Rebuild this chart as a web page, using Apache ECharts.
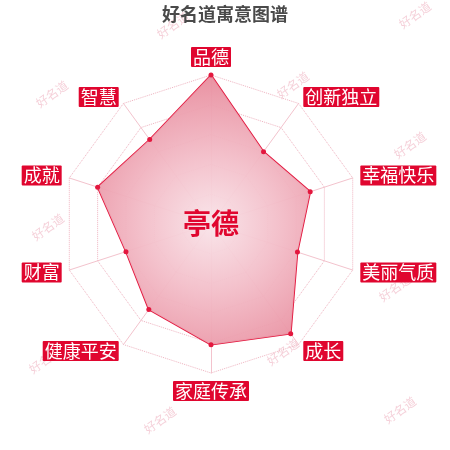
<!DOCTYPE html>
<html>
<head>
<meta charset="utf-8">
<script src="https://cdn.jsdelivr.net/npm/echarts@6/dist/echarts.min.js"></script>
<style>
html,body{margin:0;padding:0;background:#fff;}
#c{width:450px;height:450px;}
</style>
</head>
<body>
<div id="c"></div>
<script>
// clockwise from top
var indicatorNames = ['品德','创新独立','幸福快乐','美丽气质','成长','家庭传承','健康平安','财富','成就','智慧'];
var values = [100, 60, 70, 61, 91, 81, 71, 60, 80, 70];
var maxValue = 100;
var chartTitle = '好名道寓意图谱';
var centerName = '亭德';
var watermarkText = '好名道';
var watermarkSpots = [[173,25],[415,15],[52,94],[293,85],[410,145],[48,227],[395,288],[45,360],[283,352],[160,420],[400,410]];

// ECharts radar runs counter-clockwise: reorder (keep first, reverse the rest)
function toCCW(arr){ return [arr[0]].concat(arr.slice(1).reverse()); }
var ccwNames = toCCW(indicatorNames);
var ccwValues = toCCW(values);

var chart = echarts.init(document.getElementById('c'), null, {renderer:'canvas'});
var FONT = '"Noto Sans CJK SC","Noto Sans",sans-serif';

var graphics = watermarkSpots.map(function(p){
  return {
    type:'text', x:p[0], y:p[1], rotation:0.62, z:-1,
    style:{text:watermarkText, fill:'rgba(225,120,145,0.35)', font:'12px ' + FONT, textAlign:'center', textVerticalAlign:'middle'}
  };
});
graphics.push({
  type:'text', x:211, y:223, z:100,
  style:{text:centerName, fill:'#e0062f', font:'bold 28px ' + FONT, textAlign:'center', textVerticalAlign:'middle'}
});

chart.setOption({
  animation:false,
  backgroundColor:'#fff',
  title:{
    text:chartTitle, left:'center', top:0,
    textStyle:{color:'#4a4a4a', fontSize:18, fontWeight:'bold', fontFamily:FONT}
  },
  graphic:graphics,
  radar:{
    center:[211,224],
    radius:149,
    startAngle:90,
    splitNumber:5,
    nameGap:8,
    shape:'polygon',
    indicator:ccwNames.map(function(n){return {name:n, max:maxValue};}),
    axisName:{
      color:'#fff', backgroundColor:'#e0062f', fontSize:18, lineHeight:18,
      padding:[1,2], fontFamily:FONT, borderRadius:1
    },
    axisLine:{lineStyle:{color:'#f3c3cd', width:1}},
    splitLine:{lineStyle:{color:'#efb3c0', type:'dotted', width:1}},
    splitArea:{show:false}
  },
  series:[{
    type:'radar',
    symbol:'circle',
    symbolSize:5,
    itemStyle:{color:'#e3173e'},
    lineStyle:{color:'#e3173e', width:1.8},
    areaStyle:{
      color:{
        type:'radial', x:211, y:224, r:149, global:true,
        colorStops:[
          {offset:0, color:'rgba(249,228,233,1)'},
          {offset:0.45, color:'rgba(243,190,201,1)'},
          {offset:1, color:'rgba(232,140,157,1)'}
        ]
      },
      opacity:0.95
    },
    data:[{value:ccwValues, name:centerName}]
  }]
});
</script>
</body>
</html>
